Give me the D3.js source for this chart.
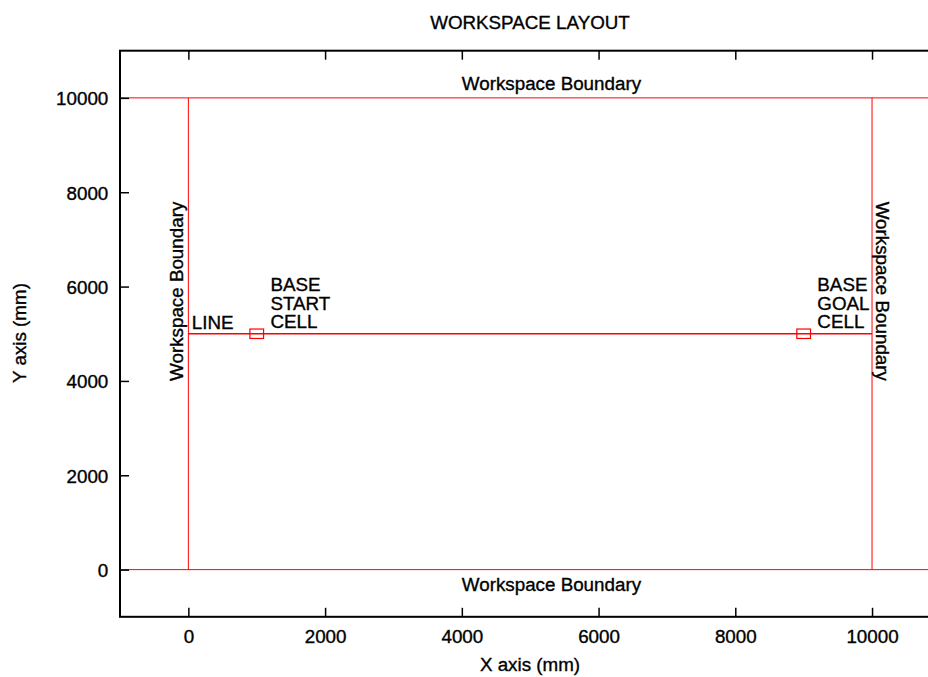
<!DOCTYPE html>
<html>
<head>
<meta charset="utf-8">
<script src="https://cdn.jsdelivr.net/npm/d3@7/dist/d3.min.js"></script>
<style>
  html, body { margin: 0; padding: 0; background: #fff; overflow: hidden; }
  svg text { font-family: "Liberation Sans", Arial, Helvetica, sans-serif; font-size: 18.8px; fill: #000; stroke: #000; stroke-width: 0.35px; }
</style>
</head>
<body>
<svg id="chart" width="928" height="677"></svg>
<script>
// ---- data ----
const title = "WORKSPACE LAYOUT";
const xLabel = "X axis (mm)";
const yLabel = "Y axis (mm)";
const xDomain = [-1000, 11000];
const yDomain = [-1000, 11000];
const xTicks = [0, 2000, 4000, 6000, 8000, 10000];
const yTicks = [0, 2000, 4000, 6000, 8000, 10000];

// workspace boundary segments [x1, y1, x2, y2] in mm
const boundaryLines = [
  [-1000, 10000, 11000, 10000],
  [-1000, 0, 11000, 0],
  [0, 0, 0, 10000],
  [10000, 0, 10000, 10000]
];
// the straight line between start and goal
const pathLine = [[0, 5000], [10000, 5000]];
// cells: centre x, centre y, size (mm)
const cells = [
  { name: "start", x: 1000, y: 5000, size: 200 },
  { name: "goal", x: 9000, y: 5000, size: 200 }
];
// annotations: text lines, anchor point (mm), rotation
const labels = [
  { lines: ["Workspace Boundary"], x: 4000, y: 10300, rotate: 0, anchor: "start" },
  { lines: ["Workspace Boundary"], x: 4000, y: -320, rotate: 0, anchor: "start" },
  { lines: ["Workspace Boundary"], x: -175, y: 4000, rotate: -90, anchor: "start" },
  { lines: ["Workspace Boundary"], x: 10150, y: 4000, rotate: 90, anchor: "end" },
  { lines: ["LINE"], x: 50, y: 5250, rotate: 0, anchor: "start" },
  { lines: ["BASE", "START", "CELL"], x: 1200, y: 5650, rotate: 0, anchor: "start" },
  { lines: ["BASE", "GOAL", "CELL"], x: 9200, y: 5650, rotate: 0, anchor: "start" }
];

// ---- layout ----
const svg = d3.select("#chart");
const x = d3.scaleLinear().domain(xDomain).range([120, 940.4]);
const y = d3.scaleLinear().domain(yDomain).range([616.8, 50.7]);
const red = "#ff0000";
const lineH = 18.8;

// boundary lines
svg.append("g").selectAll("line").data(boundaryLines).join("line")
  .attr("x1", d => x(d[0])).attr("y1", d => y(d[1]))
  .attr("x2", d => x(d[2])).attr("y2", d => y(d[3]))
  .attr("stroke", red).attr("stroke-width", 1);

// start-goal line
svg.append("path")
  .attr("d", d3.line().x(d => x(d[0])).y(d => y(d[1]))(pathLine))
  .attr("fill", "none").attr("stroke", red).attr("stroke-width", 1.5);

// cells
svg.append("g").selectAll("rect").data(cells).join("rect")
  .attr("x", d => x(d.x - d.size / 2))
  .attr("y", d => y(d.y + d.size / 2))
  .attr("width", d => x(d.x + d.size / 2) - x(d.x - d.size / 2))
  .attr("height", d => y(d.y - d.size / 2) - y(d.y + d.size / 2))
  .attr("fill", "none").attr("stroke", red).attr("stroke-width", 1.2);

// labels
labels.forEach(l => {
  const n = l.lines.length;
  const t = svg.append("text")
    .attr("transform", `translate(${x(l.x)},${y(l.y)}) rotate(${l.rotate})`)
    .attr("text-anchor", l.anchor);
  l.lines.forEach((s, i) => {
    t.append("tspan").attr("x", 0)
      .attr("y", (i - (n - 1) / 2) * lineH)
      .attr("dy", "0.35em")
      .text(s);
  });
});

// axes (ticks inward)
const styleAxis = g => {
  g.select(".domain").remove();
  g.selectAll(".tick line").attr("stroke", "#000").attr("stroke-width", 1.5);
  g.selectAll("text").attr("font-family", null).attr("font-size", null).attr("fill", "#000");
  g.attr("font-family", null).attr("font-size", null);
};

svg.append("g").attr("transform", `translate(0,${y(yDomain[0])})`)
  .call(d3.axisBottom(x).tickValues(xTicks).tickFormat(d3.format("d")).tickSize(-9).tickPadding(13.2))
  .call(styleAxis);
svg.append("g").attr("transform", `translate(0,${y(yDomain[1])})`)
  .call(d3.axisTop(x).tickValues(xTicks).tickFormat("").tickSize(-9))
  .call(styleAxis);
svg.append("g").attr("transform", `translate(${x(xDomain[0])},0)`)
  .call(d3.axisLeft(y).tickValues(yTicks).tickFormat(d3.format("d")).tickSize(-9).tickPadding(11.7))
  .call(styleAxis)
  .call(g => g.selectAll("text").attr("dy", "0.36em"));
svg.append("g").attr("transform", `translate(${x(xDomain[1])},0)`)
  .call(d3.axisRight(y).tickValues(yTicks).tickFormat("").tickSize(-9))
  .call(styleAxis);

// border
svg.append("rect")
  .attr("x", x(xDomain[0])).attr("y", y(yDomain[1]))
  .attr("width", x(xDomain[1]) - x(xDomain[0]))
  .attr("height", y(yDomain[0]) - y(yDomain[1]))
  .attr("fill", "none").attr("stroke", "#000").attr("stroke-width", 2);

// titles
svg.append("text").attr("x", 530).attr("y", 29.3).attr("text-anchor", "middle").text(title);
svg.append("text").attr("x", 530).attr("y", 670.5).attr("text-anchor", "middle").text(xLabel);
svg.append("text").attr("transform", `translate(26,333) rotate(-90)`).attr("text-anchor", "middle").text(yLabel);
</script>
</body>
</html>
